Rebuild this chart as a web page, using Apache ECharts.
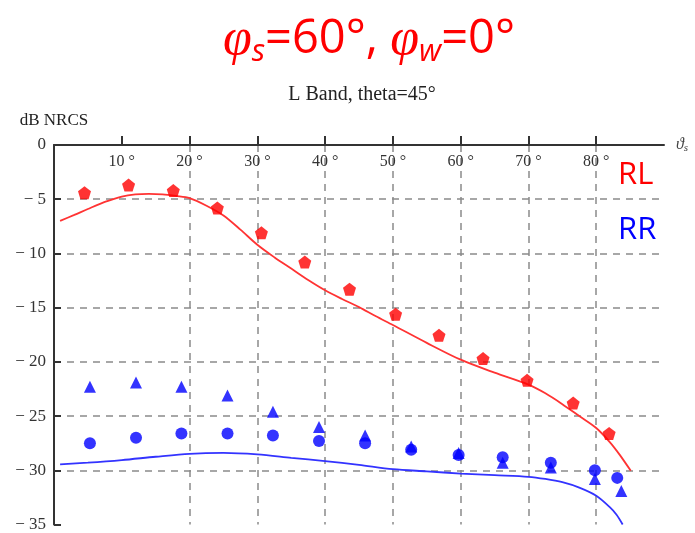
<!DOCTYPE html>
<html>
<head>
<meta charset="utf-8">
<script src="https://cdn.jsdelivr.net/npm/echarts@6/dist/echarts.min.js"></script>
<style>
  html, body { margin: 0; padding: 0; background: #fff; }
  #main { width: 695px; height: 533px; }
</style>
</head>
<body>
<div id="main"></div>
<script>
// x ticks (degrees)
var xTicks = [10, 20, 30, 40, 50, 60, 70, 80];

// RL measured points
var rlAngle = [4.5, 11.0, 17.6, 24.1, 30.6, 37.0, 43.6, 50.4, 56.8, 63.3, 69.8, 76.6, 81.9];
var rlMeas = [-4.4, -3.7, -4.2, -5.8, -8.1, -10.8, -13.3, -15.6, -17.55, -19.7, -21.7, -23.8, -26.6];

// RR measured points (circles and triangles)
var rrCircleAngle = [5.3, 12.1, 18.8, 25.6, 32.3, 39.1, 45.9, 52.7, 59.7, 66.2, 73.3, 79.8, 83.1];
var rrCircle = [-27.5, -27.0, -26.6, -26.6, -26.8, -27.3, -27.5, -28.1, -28.6, -28.8, -29.3, -30.0, -30.7];
var rrTriAngle = [5.3, 12.1, 18.8, 25.6, 32.3, 39.1, 45.9, 52.7, 59.7, 66.2, 73.3, 79.8, 83.7];
var rrTri = [-22.3, -21.9, -22.3, -23.1, -24.6, -26.0, -26.8, -27.8, -28.4, -29.3, -29.75, -30.8, -31.9];

// model curves
var rlCurveX = [0.9, 3, 5, 7.5, 10, 12, 14, 16, 18, 20, 22.5, 25, 27.5, 30, 32.5, 35, 37.5, 40, 42.5, 45, 47.5, 50, 55, 60, 65, 70, 72.5, 75, 77.5, 80, 82, 83.5, 85.1];
var rlCurve = [-7.0, -6.45, -5.9, -5.25, -4.75, -4.55, -4.5, -4.55, -4.7, -4.9, -5.6, -6.5, -7.8, -9.2, -10.35, -11.4, -12.45, -13.4, -14.2, -14.95, -15.8, -16.6, -18.25, -19.8, -21.0, -22.1, -22.9, -23.9, -25.0, -26.1, -27.4, -28.6, -30.05];
var rrCurveX = [0.9, 5, 10, 15, 20, 25, 30, 35, 40, 45, 50, 55, 60, 65, 70, 72.5, 75, 77.5, 80, 82, 83, 83.9];
var rrCurve = [-29.45, -29.3, -29.06, -28.75, -28.48, -28.4, -28.54, -28.85, -29.15, -29.5, -29.9, -30.1, -30.3, -30.45, -30.6, -30.8, -31.1, -31.6, -32.35, -33.4, -34.1, -35.0];

function pairs(xs, ys) {
    var out = [];
    for (var i = 0; i < xs.length; i++) {
        out.push([xs[i], ys[i]]);
    }
    return out;
}

var serif = 'Liberation Serif';
var dash = '#8a8a8a';
var pentagon = 'path://M50,0 L98,36 L80,92 L20,92 L2,36 Z';

var myChart = echarts.init(document.getElementById('main'));
var option = {
    animation: false,
    title: [
        {
            text: '{phi|φ}{sub|s}{n|=60°, }{phi|φ}{sub|w}{n|=0°}',
            left: 364,
            textAlign: 'center',
            top: 7,
            textStyle: {
                fontWeight: 'normal',
                rich: {
                    phi: { fontFamily: 'Liberation Serif', fontStyle: 'italic', fontWeight: 'normal', fontSize: 52, color: '#ff0000', lineHeight: 56 },
                    n: { fontFamily: 'Open Sans', fontWeight: 'normal', fontSize: 47, color: '#ff0000', lineHeight: 56 },
                    sub: { fontFamily: 'Open Sans', fontStyle: 'italic', fontWeight: 'normal', fontSize: 31, color: '#ff0000', lineHeight: 16, verticalAlign: 'bottom' }
                }
            }
        },
        {
            text: 'L Band, theta=45°',
            left: 357,
            textAlign: 'center',
            top: 80,
            textStyle: { fontFamily: serif, fontSize: 20, fontWeight: 'normal', color: '#222' }
        }
    ],
    legend: {
        orient: 'vertical',
        left: 608,
        top: 155,
        icon: 'none',
        itemWidth: 0,
        itemGap: 24,
        selectedMode: false,
        textStyle: { fontFamily: 'Open Sans', fontSize: 31 },
        data: [
            { name: 'RL', textStyle: { color: '#ff0000' } },
            { name: 'RR', textStyle: { color: '#0000ff' } }
        ]
    },
    grid: { left: 54, right: 31, top: 145, bottom: 6 },
    xAxis: {
        type: 'value',
        position: 'top',
        min: 0,
        max: 90,
        interval: 10,
        name: '{v|ϑ}{s|s}',
        nameLocation: 'end',
        nameGap: 12,
        nameTextStyle: {
            rich: {
                v: { fontFamily: serif, fontStyle: 'italic', fontSize: 16, color: '#444', lineHeight: 18 },
                s: { fontFamily: serif, fontStyle: 'italic', fontSize: 11, color: '#444', lineHeight: 8, verticalAlign: 'bottom' }
            }
        },
        axisLine: { onZero: false, lineStyle: { color: '#333', width: 2 } },
        axisTick: { customValues: xTicks, inside: false, length: 9, lineStyle: { color: '#333', width: 2 } },
        axisLabel: {
            customValues: xTicks,
            inside: true,
            margin: 9,
            fontFamily: serif,
            fontSize: 16,
            color: '#333',
            formatter: function (v) { return v + ' °'; }
        },
        splitLine: {
            show: true,
            lineStyle: {
                color: ['rgba(0,0,0,0)', dash, dash, dash, dash, dash, dash, dash, dash, 'rgba(0,0,0,0)'],
                type: [7, 6],
                width: 1.5
            }
        }
    },
    yAxis: {
        type: 'value',
        min: -35,
        max: 0,
        interval: 5,
        name: 'dB NRCS',
        nameLocation: 'end',
        nameGap: 16,
        nameTextStyle: { fontFamily: serif, fontSize: 17, color: '#222' },
        axisLine: { onZero: false, lineStyle: { color: '#333', width: 2 } },
        axisTick: { inside: true, length: 7, lineStyle: { color: '#333', width: 2 } },
        axisLabel: {
            margin: 8,
            fontFamily: serif,
            fontSize: 17,
            color: '#333',
            formatter: function (v) { return String(v).replace('-', '− '); }
        },
        splitLine: {
            show: true,
            lineStyle: {
                color: ['rgba(0,0,0,0)', dash, dash, dash, dash, dash, dash, 'rgba(0,0,0,0)'],
                type: [7, 6],
                width: 1.5
            }
        }
    },
    series: [
        {
            name: 'RL',
            type: 'line',
            data: pairs(rlCurveX, rlCurve),
            smooth: 0.3,
            showSymbol: false,
            lineStyle: { color: '#ff3333', width: 1.8 },
            itemStyle: { color: '#ff0000' },
            z: 2
        },
        {
            name: 'RR',
            type: 'line',
            data: pairs(rrCurveX, rrCurve),
            smooth: 0.3,
            showSymbol: false,
            lineStyle: { color: '#3333ff', width: 1.8 },
            itemStyle: { color: '#0000ff' },
            z: 2
        },
        {
            name: 'RL',
            type: 'scatter',
            data: pairs(rlAngle, rlMeas),
            symbol: pentagon,
            symbolSize: 13,
            itemStyle: { color: '#ff0000' },
            z: 3
        },
        {
            name: 'RR',
            type: 'scatter',
            data: pairs(rrTriAngle, rrTri),
            symbol: 'triangle',
            symbolSize: 12,
            itemStyle: { color: '#0000ff' },
            z: 3
        },
        {
            name: 'RR',
            type: 'scatter',
            data: pairs(rrCircleAngle, rrCircle),
            symbol: 'circle',
            symbolSize: 12,
            itemStyle: { color: '#0000ff' },
            z: 4
        }
    ]
};
myChart.setOption(option);
</script>
</body>
</html>
